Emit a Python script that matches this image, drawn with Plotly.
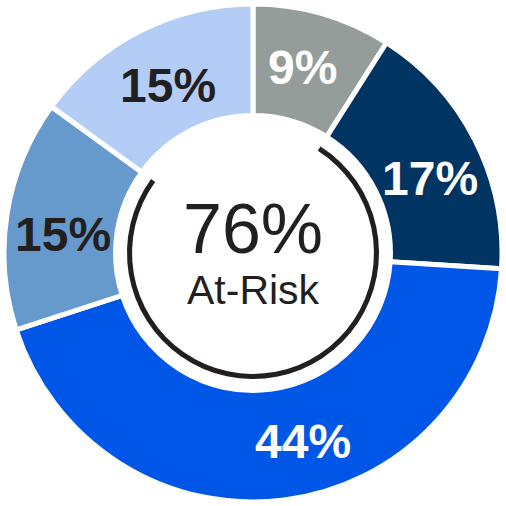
import math
import plotly.graph_objects as go

categories = ["Gray", "Navy", "Bright", "Medium", "Light"]
values = [9, 17, 44, 15, 15]
labels_text = ["9%", "17%", "44%", "15%", "15%"]
colors = ["#959d9a", "#003462", "#0057e7", "#6699cc", "#b3cdf6"]
text_colors = ["#ffffff", "#ffffff", "#ffffff", "#231f20", "#231f20"]

at_risk_value = 76
center_label = "At-Risk"

# layout / style settings
FONT = "Liberation Sans, Arial, Helvetica, sans-serif"
W = 506
R = 249
PLOT = 2 * R
M = (W - PLOT) // 2
HOLE = 0.552
LABEL_R = 193
# pixel nudges of each slice label away from the slice's mid-angle position
label_nudge = [(-4, 0), (5, 13), (26, -3), (1, 12), (3, 4)]

fig = go.Figure()
fig.add_trace(go.Pie(
    labels=categories, values=values,
    sort=False, direction="clockwise", rotation=0,
    hole=HOLE,
    marker=dict(colors=colors, line=dict(color="white", width=5)),
    textinfo="none",
    showlegend=False, hoverinfo="skip",
    domain=dict(x=[0, 1], y=[0, 1]),
))

# black arc spanning the at-risk share (after the first slice)
ring_r = 126
arc_vals = [values[0], at_risk_value, 100 - values[0] - at_risk_value]
fig.add_trace(go.Pie(
    values=arc_vals, sort=False, direction="clockwise", rotation=0,
    hole=0.96,
    marker=dict(colors=["rgba(0,0,0,0)", "#231f20", "rgba(0,0,0,0)"], line=dict(width=0)),
    textinfo="none", showlegend=False, hoverinfo="skip",
    domain=dict(x=[(R - ring_r) / PLOT, (R + ring_r) / PLOT],
                y=[(R - ring_r) / PLOT, (R + ring_r) / PLOT]),
))

# slice labels placed at each slice's mid-angle
total = sum(values)
cum = 0
for v, t, tc, (nx, ny) in zip(values, labels_text, text_colors, label_nudge):
    mid = (cum + v / 2) / total * 2 * math.pi
    cum += v
    px = LABEL_R * math.sin(mid) + nx
    py = -LABEL_R * math.cos(mid) + ny
    fig.add_annotation(x=0.5 + px / PLOT, y=0.5 - py / PLOT, xref="paper", yref="paper",
                       xanchor="center", yanchor="middle", text=f"<b>{t}</b>", showarrow=False,
                       font=dict(family=FONT, size=48, color=tc))

fig.add_annotation(x=0.5, y=0.5, xref="paper", yref="paper", yanchor="bottom", yshift=-17,
                   text=f"{at_risk_value}%", showarrow=False,
                   font=dict(family=FONT, size=70, color="#231f20"))
fig.add_annotation(x=0.5, y=0.5, xref="paper", yref="paper", yanchor="top", yshift=-12,
                   text=center_label, showarrow=False,
                   font=dict(family=FONT, size=41, color="#231f20"))

fig.update_layout(width=W, height=W, margin=dict(l=M, r=W - PLOT - M, t=M, b=W - PLOT - M),
                  paper_bgcolor="white", plot_bgcolor="white")
fig.write_html("out.html", config={"displayModeBar": False},
               post_script="document.body.style.margin='0px';")
